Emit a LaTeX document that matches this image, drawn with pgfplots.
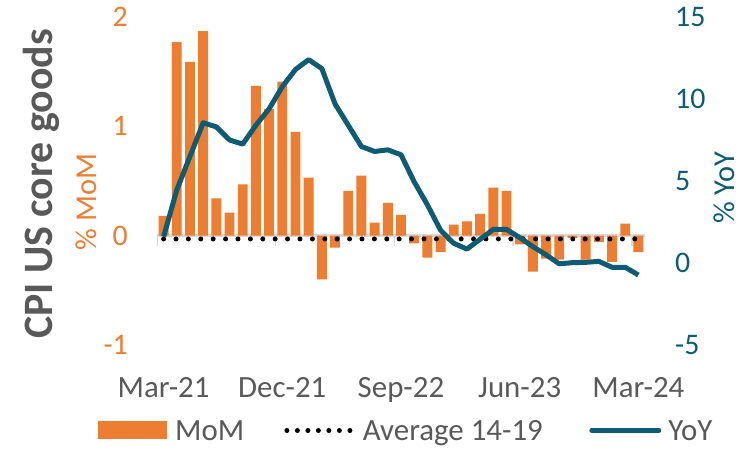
\documentclass[border=0pt]{standalone}
\usepackage{fontspec}
\setmainfont{Carlito}
\usepackage{pgfplots}
\pgfplotsset{compat=1.18}
\definecolor{mom}{RGB}{237,125,49}
\definecolor{yoy}{RGB}{13,92,115}
\definecolor{txt}{RGB}{89,89,89}
\definecolor{zl}{RGB}{217,217,217}
\begin{document}
\begin{tikzpicture}
\begin{axis}[
  scale only axis, width=488bp, height=328bp,
  xmin=-0.5, xmax=36.5, ymin=-1, ymax=2,
  axis line style={draw=none}, major tick length=0pt,
  xtick={0,9,18,27,36},
  xticklabels={Mar-21,Dec-21,Sep-22,Jun-23,Mar-24},
  ytick={-1,0,1,2}, yticklabels={-1,0,1,2},
  yticklabel pos=left, xticklabel pos=bottom,
  tick label style={font=\fontsize{30}{36}\selectfont, inner sep=0pt},
  xticklabel style={text=txt, yshift=-32bp, font=\fontsize{31}{36}\selectfont},
  yticklabel style={text=mom, xshift=-29bp},
  ylabel={\% MoM},
  every axis y label/.style={at={(axis description cs:-0.123,0.436)}, rotate=90, anchor=base, font=\fontsize{30.5}{36}\selectfont, text=mom},
  legend columns=3,
  legend style={draw=none, fill=none, inner sep=0pt, outer sep=0pt,
    at={(axis description cs:-0.1209,-0.2683)}, anchor=west,
    nodes={inner sep=0pt, text height=20bp, text depth=6bp, font=\fontsize{31}{36}\selectfont, text=txt},
    column sep=0pt},
  legend cell align=left,
]
\addplot[zl, line width=2.5bp, forget plot] coordinates {(-0.5,0) (36.5,0)};
\addplot[ycomb, zl, line width=1.5bp, forget plot] coordinates {(-0.5,-0.09) (8.5,-0.09) (17.5,-0.09) (26.5,-0.09) (35.5,-0.09)};
\addplot[ybar, bar width=0.75, fill=mom, draw=none,
  legend image code/.code={\fill[mom, draw=none] (0bp,-6.3bp) rectangle (69bp,11.7bp); \path[draw=none, fill=none] (77bp,0bp) circle (0.1bp);}]
  coordinates {
  (0,0.18) (1,1.77) (2,1.59) (3,1.87) (4,0.34) (5,0.21) (6,0.47) (7,1.37) (8,1.16) (9,1.41)
  (10,0.95) (11,0.53) (12,-0.40) (13,-0.11) (14,0.41) (15,0.55) (16,0.12) (17,0.30) (18,0.19) (19,-0.07)
  (20,-0.20) (21,-0.15) (22,0.10) (23,0.13) (24,0.20) (25,0.44) (26,0.41) (27,-0.08) (28,-0.33) (29,-0.21)
  (30,-0.22) (31,-0.02) (32,-0.22) (33,-0.06) (34,-0.24) (35,0.11) (36,-0.15)};
\addlegendentry{MoM}
\addplot[black, line width=5bp, line cap=round, dash pattern=on 0bp off 12.4bp,
  legend image code/.code={\path[draw=none, fill=none] (0bp,0bp) -- (118.7bp,0bp); \draw[black, line width=5bp, line cap=round, dash pattern=on 0bp off 10.5bp] (42.7bp,2.5bp) -- (105.8bp,2.5bp);}]
  coordinates {(0,-0.03) (36,-0.03)};
\addlegendentry{Average 14-19}
\addlegendimage{legend image code/.code={\path[draw=none, fill=none] (0bp,0bp) -- (125.5bp,0bp); \draw[yoy, line width=5bp, line cap=round] (49bp,2.5bp) -- (116bp,2.5bp);}}
\addlegendentry{YoY}
\end{axis}
\begin{axis}[
  scale only axis, width=488bp, height=328bp,
  xmin=-0.5, xmax=36.5, ymin=-5, ymax=15,
  hide x axis,
  axis line style={draw=none}, major tick length=0pt,
  ytick={-5,0,5,10,15}, yticklabels={-5,0,5,10,15},
  yticklabel pos=right,
  tick label style={font=\fontsize{30}{36}\selectfont, inner sep=0pt},
  yticklabel style={text=yoy, xshift=30bp},
  ylabel={\% YoY},
  every axis y label/.style={at={(axis description cs:1.184,0.479)}, rotate=90, anchor=base, font=\fontsize{30.5}{36}\selectfont, text=yoy},
]
\addplot[yoy, line width=5bp, line join=round] coordinates {
  (0,1.6) (1,4.45) (2,6.5) (3,8.55) (4,8.3) (5,7.5) (6,7.25) (7,8.4) (8,9.4) (9,10.75)
  (10,11.8) (11,12.4) (12,11.85) (13,9.7) (14,8.4) (15,7.1) (16,6.8) (17,6.9) (18,6.6) (19,4.95)
  (20,3.55) (21,2.0) (22,1.2) (23,0.85) (24,1.45) (25,2.05) (26,2.05) (27,1.55) (28,1.0) (29,0.5)
  (30,-0.05) (31,0.02) (32,0.04) (33,0.1) (34,-0.26) (35,-0.26) (36,-0.73)};
\end{axis}
\node[rotate=90, anchor=base, font=\bfseries\fontsize{42}{50}\selectfont, text=txt, inner sep=0pt] at (-104bp,161bp) {CPI US core goods};
\pgfresetboundingbox
\path[use as bounding box] (-157bp,-104bp) rectangle (599bp,345bp);
\end{tikzpicture}
\end{document}
